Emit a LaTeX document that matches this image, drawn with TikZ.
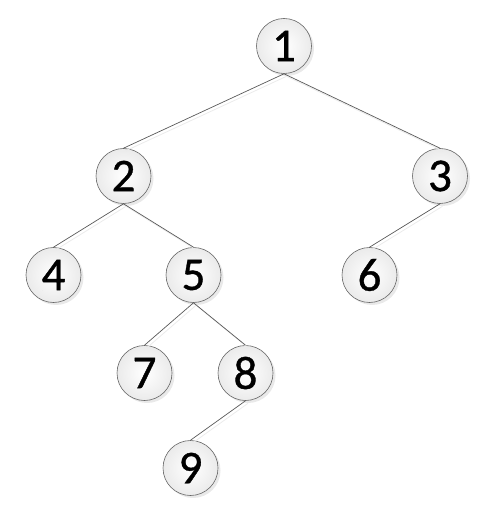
\documentclass[tikz,border=0pt]{standalone}
\usepackage{fontspec}
\setmainfont{Carlito}
\newfontfamily\digitfont[FakeBold=0.8]{Carlito}
\usetikzlibrary{shadows}
\begin{document}
\begin{tikzpicture}[x=1pt,y=-1pt,
  tnode/.style={circle,draw=black!60,line width=0.6pt,minimum size=55pt,inner sep=0pt,
    inner color=white,outer color=black!8,
    drop shadow={shadow xshift=2.5pt,shadow yshift=-2.5pt,fill=black!12,opacity=0.7},
    font=\digitfont\fontsize{47}{47}\selectfont},
  tedge/.style={draw=black!65,line width=0.7pt},
  eshadow/.style={draw=black!8,line width=0.8pt}]
\useasboundingbox (0,0) rectangle (476,510);
\node[tnode] (n1) at (284,46) {1};
\node[tnode] (n2) at (123.5,176) {2};
\node[tnode] (n3) at (440,176) {3};
\node[tnode] (n4) at (53.5,275) {4};
\node[tnode] (n5) at (193.5,275) {5};
\node[tnode] (n6) at (369.5,275) {6};
\node[tnode] (n7) at (144.5,373) {7};
\node[tnode] (n8) at (245.5,373) {8};
\node[tnode] (n9) at (190.5,468) {9};
\foreach \a/\b in {n1/n2,n1/n3,n2/n4,n2/n5,n3/n6,n5/n7,n5/n8,n8/n9}{
  \draw[eshadow] ([xshift=2.5pt,yshift=-2.5pt]\a.south) -- ([xshift=2.5pt,yshift=-2.5pt]\b.north);
  \draw[tedge] (\a.south) -- (\b.north);
}
\end{tikzpicture}
\end{document}
